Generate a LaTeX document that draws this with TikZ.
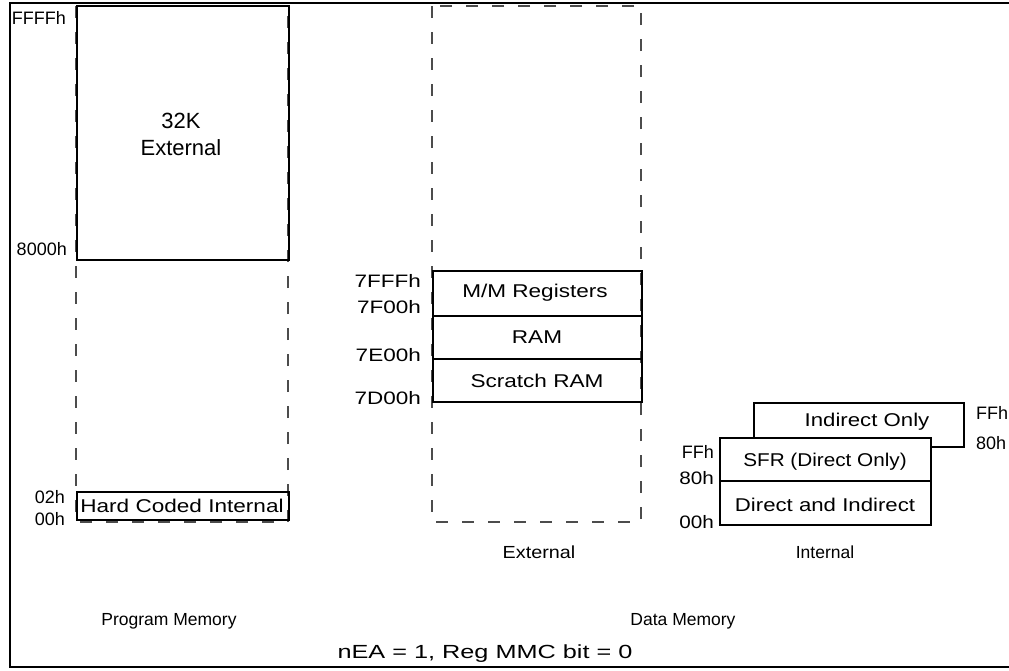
\documentclass[tikz,border=0pt]{standalone}
\usepackage{fontspec}
\setmainfont{Liberation Sans}
\newcommand\wtext[2]{\scalebox{#1}[1]{#2}}
\begin{document}
\begin{tikzpicture}[x=1pt,y=-1pt,
  frame/.style={line width=2.6pt},
  dashbox/.style={draw=black!70, line width=1.1pt, dash pattern=on 12pt off 14pt},
  membox/.style={draw=black, line width=1.5pt},
  lbl/.style={inner sep=0pt, font=\fontsize{18}{20}\selectfont},
  boxlbl/.style={inner sep=0pt, font=\fontsize{18.5}{20}\selectfont},
  captext/.style={inner sep=0pt, font=\fontsize{17.5}{20}\selectfont}]
\useasboundingbox (0,0) rectangle (1009,670);
% outer frame (left, top, bottom)
\draw[frame] (1009,3) -- (10,3) -- (10,667) -- (1009,667);

% ---------- Program memory ----------
\draw[dashbox] (76,6) rectangle (288,522);
\node[membox, minimum width=212pt, minimum height=254pt, anchor=north west, inner sep=0pt] (ext32) at (76,5) {};
\node[inner sep=0pt, font=\fontsize{22}{26}\selectfont, align=center] (ext32t) at (181,134) {32K\\[1pt]External};
\node[membox, minimum width=212pt, minimum height=28pt, anchor=north west, inner sep=0pt] (hci) at (76,491) {};
\node[boxlbl] (hcit) at (182,506) {\wtext{1.22}{Hard Coded Internal}};
\node[lbl, anchor=east] (aFFFF) at (66,18) {FFFFh};
\node[lbl, anchor=east] (a8000) at (67,249) {8000h};
\node[lbl, anchor=east] (a02) at (65,497) {02h};
\node[lbl, anchor=east] (a00) at (65,519) {00h};
\node[captext] (pm) at (169,621) {Program Memory};

% ---------- Data memory external ----------
\draw[dashbox] (432,6) rectangle (641,522);
\node[membox, minimum width=209pt, minimum height=45pt, anchor=north west, inner sep=0pt] (mm) at (432,270) {};
\node[membox, minimum width=209pt, minimum height=43pt, anchor=north west, inner sep=0pt] (ram) at (432,315) {};
\node[membox, minimum width=209pt, minimum height=43pt, anchor=north west, inner sep=0pt] (scr) at (432,358) {};
\node[boxlbl] (mmt) at (535,293) {\wtext{1.22}{M/M Registers}};
\node[boxlbl] (ramt) at (537,337) {\wtext{1.22}{RAM}};
\node[boxlbl] (scrt) at (537,381) {\wtext{1.22}{Scratch RAM}};
\node[lbl, anchor=east] (a7FFF) at (421,281) {\wtext{1.25}{7FFFh}};
\node[lbl, anchor=east] (a7F00) at (421,307) {\wtext{1.25}{7F00h}};
\node[lbl, anchor=east] (a7E00) at (421,355) {\wtext{1.25}{7E00h}};
\node[lbl, anchor=east] (a7D00) at (421,398) {\wtext{1.25}{7D00h}};
\node[captext] (extc) at (539,552) {\wtext{1.13}{External}};

% ---------- Data memory internal ----------
\node[membox, minimum width=210pt, minimum height=44pt, anchor=north west, inner sep=0pt] (ind) at (753,402) {};
\node[boxlbl] (indt) at (867,422) {\wtext{1.2}{Indirect Only}};
\node[membox, fill=white, minimum width=211pt, minimum height=43pt, anchor=north west, inner sep=0pt] (sfr) at (719,437) {};
\node[membox, fill=white, minimum width=211pt, minimum height=44pt, anchor=north west, inner sep=0pt] (dai) at (719,480) {};
\node[boxlbl] (sfrt) at (825,462) {\wtext{1.12}{SFR (Direct Only)}};
\node[boxlbl] (dait) at (825,505) {\wtext{1.2}{Direct and Indirect}};
\node[lbl, anchor=west] (bFF) at (976,413) {FFh};
\node[lbl, anchor=west] (b80) at (976,443) {80h};
\node[lbl, anchor=east] (cFF) at (714,452) {FFh};
\node[lbl, anchor=east] (c80) at (714,478) {\wtext{1.15}{80h}};
\node[lbl, anchor=east] (c00) at (714,522) {\wtext{1.15}{00h}};
\node[captext] (intc) at (825,552) {Internal};

\node[captext] (dm) at (683,621) {Data Memory};
\node[inner sep=0pt, font=\fontsize{19}{22}\selectfont] (note) at (485,654) {\wtext{1.33}{nEA = 1, Reg MMC bit = 0}};
\end{tikzpicture}
\end{document}
